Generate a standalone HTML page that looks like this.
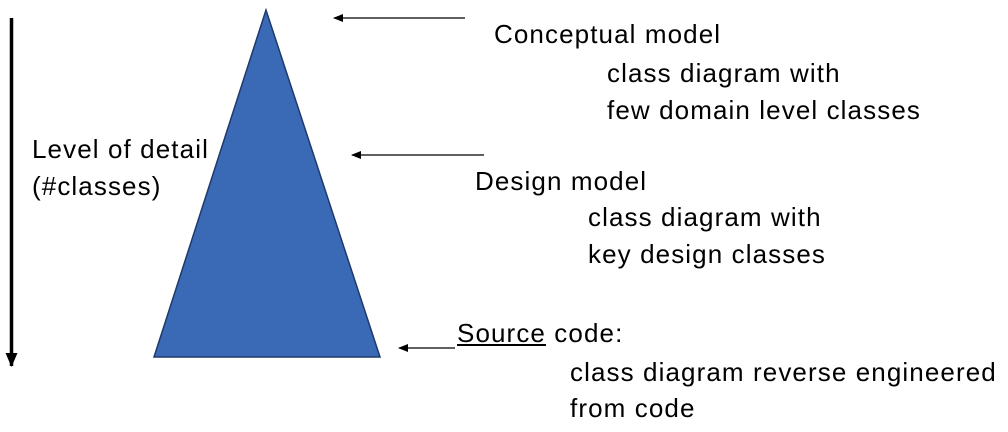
<!DOCTYPE html>
<html><head><style>
body{margin:0;width:1008px;height:432px;background:#fff;position:relative;overflow:hidden;font-family:"Liberation Sans",sans-serif;}
.t{position:absolute;font-size:26px;line-height:28px;letter-spacing:1.1px;color:#000;white-space:nowrap;}
</style></head><body>
<svg width="1008" height="432" style="position:absolute;left:0;top:0">
<defs><marker id="a" markerWidth="10" markerHeight="8" refX="9" refY="4" orient="auto" markerUnits="userSpaceOnUse"><path d="M0,0 L10,4 L0,8 z" fill="#000"/></marker>
<marker id="b" markerWidth="14" markerHeight="12" refX="13" refY="6" orient="auto" markerUnits="userSpaceOnUse"><path d="M0,0 L14,6 L0,12 z" fill="#000"/></marker></defs>
<polygon points="266,10 154,357 380,357" fill="#3a69b6" stroke="#1f3a6a" stroke-width="1.5"/>
<line x1="11.5" y1="18" x2="11.5" y2="366" stroke="#000" stroke-width="3.5" marker-end="url(#b)"/>
<line x1="465" y1="18" x2="334" y2="18" stroke="#000" stroke-width="1.2" marker-end="url(#a)"/>
<line x1="484" y1="155" x2="352" y2="155" stroke="#000" stroke-width="1.2" marker-end="url(#a)"/>
<line x1="455" y1="348" x2="399" y2="348" stroke="#000" stroke-width="1.2" marker-end="url(#a)"/>
</svg>
<div class="t" style="left:494px;top:20px">Conceptual model</div>
<div class="t" style="left:607px;top:59px">class diagram with</div>
<div class="t" style="left:607px;top:96px">few domain level classes</div>
<div class="t" style="left:32px;top:135px">Level of detail</div>
<div class="t" style="left:32px;top:172px">(#classes)</div>
<div class="t" style="left:475px;top:167px">Design model</div>
<div class="t" style="left:588px;top:203px">class diagram with</div>
<div class="t" style="left:588px;top:240px">key design classes</div>
<div class="t" style="left:457px;top:319px"><span style="text-decoration:underline">Source</span> code:</div>
<div class="t" style="left:570px;top:358px">class diagram reverse engineered</div>
<div class="t" style="left:570px;top:394px">from code</div>
</body></html>
